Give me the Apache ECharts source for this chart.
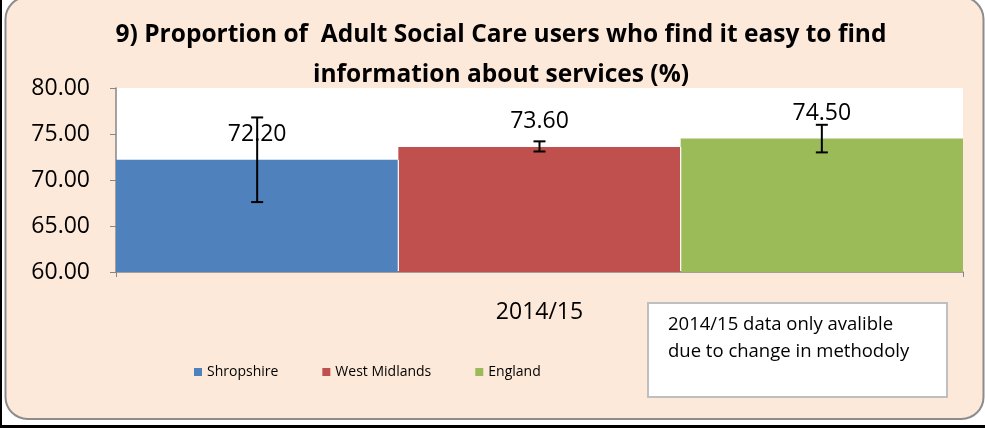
<!DOCTYPE html>
<html>
<head>
<meta charset="utf-8">
<script src="https://cdn.jsdelivr.net/npm/echarts@6/dist/echarts.min.js"></script>
<style>html,body{margin:0;padding:0;background:#fff;}#c{width:985px;height:428px;}</style>
</head>
<body>
<div id="c"></div>
<script>
const titleText = '9) Proportion of  Adult Social Care users who find it easy to find\ninformation about services (%)';
const categories = ['2014/15'];
const seriesNames = ['Shropshire', 'West Midlands', 'England'];
const seriesColors = ['#4F81BD', '#C0504D', '#9BBB59'];
const values = [72.20, 73.60, 74.50];
const lowerCI = [67.6, 73.1, 73.0];
const upperCI = [76.8, 74.2, 76.0];
const yTicks = { min: 60, max: 80, interval: 5 };
const noteText = '2014/15 data only avalible\ndue to change in methodoly';

const chart = echarts.init(document.getElementById('c'), null, { renderer: 'canvas' });

const barSeries = seriesNames.map((name, i) => ({
  name: name,
  type: 'bar',
  data: [values[i]],
  barGap: '0%',
  barCategoryGap: '0%',
  itemStyle: { color: seriesColors[i] },
  label: {
    show: true,
    position: 'top',
    distance: 14,
    formatter: p => p.value.toFixed(2),
    color: '#000',
    fontFamily: 'Open Sans',
    fontSize: 23
  },
  z: 2
}));

const errData = seriesNames.map((name, i) => [0, lowerCI[i], upperCI[i], i]);

const errSeries = {
  type: 'custom',
  name: 'errors',
  data: errData,
  encode: { x: 0, y: [1, 2] },
  z: 10,
  silent: true,
  renderItem: function (params, api) {
    const cat = api.value(0);
    const lo = api.coord([cat, api.value(1)]);
    const hi = api.coord([cat, api.value(2)]);
    const band = api.size([1, 0])[0];
    const n = seriesNames.length;
    const bw = band / n;
    const x = lo[0] + (api.value(3) - (n - 1) / 2) * bw;
    const hw = 6;
    const st = { stroke: '#000', lineWidth: 2 };
    const children = [
      { type: 'line', shape: { x1: x, y1: lo[1], x2: x, y2: hi[1] }, style: st },
      { type: 'line', shape: { x1: x - hw, y1: lo[1], x2: x + hw, y2: lo[1] }, style: st },
      { type: 'line', shape: { x1: x - hw, y1: hi[1], x2: x + hw, y2: hi[1] }, style: st }
    ];
    // thin white separator between adjacent bars
    if (api.value(3) > 0) {
      const sx = lo[0] + (api.value(3) - n / 2) * bw;
      const base = api.coord([cat, yTicks.min]);
      const top = api.coord([cat, Math.min(values[api.value(3)], values[api.value(3) - 1])]);
      children.push({ type: 'line', shape: { x1: sx, y1: base[1] - 1, x2: sx, y2: top[1] }, style: { stroke: '#ffffff', lineWidth: 1.2 }, z2: -1 });
    }
    return { type: 'group', children: children };
  }
};

chart.setOption({
  backgroundColor: '#ffffff',
  animation: false,
  title: {
    text: titleText,
    left: 501,
    top: 10,
    textAlign: 'center',
    padding: [5, 0, 5, 0],
    textStyle: {
      fontFamily: 'Open Sans',
      fontWeight: 'bold',
      fontSize: 24.5,
      lineHeight: 40,
      color: '#000'
    }
  },
  legend: {
    data: seriesNames,
    left: 189,
    top: 360,
    icon: 'rect',
    itemWidth: 8,
    itemHeight: 8,
    itemGap: 44,
    textStyle: { fontFamily: 'Open Sans', fontSize: 14, color: '#000' }
  },
  grid: {
    left: 116,
    right: 22,
    top: 88,
    bottom: 156,
    show: true,
    backgroundColor: '#ffffff',
    borderWidth: 0
  },
  xAxis: {
    type: 'category',
    data: categories,
    axisLine: { show: true, lineStyle: { color: '#868686', width: 1.5 } },
    axisTick: { show: true, length: 5, lineStyle: { color: '#868686' } },
    axisLabel: { fontFamily: 'Open Sans', fontSize: 23, color: '#000', margin: 29 }
  },
  yAxis: {
    type: 'value',
    min: yTicks.min,
    max: yTicks.max,
    interval: yTicks.interval,
    axisLine: { show: true, lineStyle: { color: '#868686', width: 1.5 } },
    axisTick: { show: true, length: 6, lineStyle: { color: '#868686' } },
    splitLine: { show: false },
    axisLabel: {
      fontFamily: 'Open Sans',
      fontSize: 23,
      color: '#000',
      margin: 26,
      formatter: v => v.toFixed(2)
    }
  },
  graphic: [
    { type: 'rect', z: -10, shape: { x: 0, y: 0, width: 2, height: 428 }, style: { fill: '#000' } },
    { type: 'rect', z: -10, shape: { x: 0, y: 425, width: 985, height: 3 }, style: { fill: '#000' } },
    {
      type: 'rect', z: -9,
      shape: { x: 5.5, y: -3, width: 978, height: 422, r: 22 },
      style: { fill: '#FDE9D9', stroke: '#8C8C8C', lineWidth: 2 }
    },
    {
      type: 'rect', z: 20,
      shape: { x: 648, y: 303, width: 299, height: 94 },
      style: { fill: '#ffffff', stroke: '#BFBFBF', lineWidth: 2 }
    },
    {
      type: 'text', z: 21, x: 668, y: 311,
      style: { text: noteText, fontFamily: 'Open Sans', fontSize: 18.5, lineHeight: 27, fill: '#000' }
    }
  ],
  series: barSeries.concat([errSeries])
});
</script>
</body>
</html>
